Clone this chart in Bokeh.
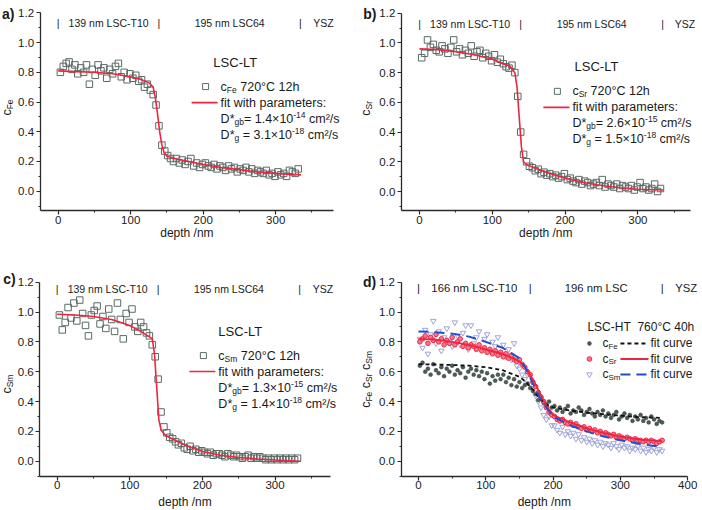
import math
from bokeh.plotting import figure
from bokeh.models import Label, FixedTicker, NumeralTickFormatter, Range1d
from bokeh.layouts import column, row
from bokeh.embed import file_html
from bokeh.resources import INLINE

FONT = "Liberation Sans"
AX = "#2b2b2b"
TXT = "#1a1a1a"

# ------------------------------------------------------------------ data
DEPTH_LT = [3, 7, 11, 15, 19, 23, 27, 31, 35, 39,
            43, 47, 51, 55, 59, 63, 67, 71, 75, 79,
            83, 87, 91, 95, 99, 103, 107, 111, 115, 119,
            123, 127, 131, 135, 139, 143, 147, 151, 155, 159,
            163, 167, 171, 175, 179, 183, 187, 191, 195, 199,
            203, 207, 211, 215, 219, 223, 227, 231, 235, 239,
            243, 247, 251, 255, 259, 263, 267, 271, 275, 279,
            283, 287, 291, 295, 299, 303, 307, 311, 315, 319,
            323, 327, 331]

C_FE_LT = [0.80, 0.84, 0.86, 0.87, 0.82, 0.85, 0.79, 0.83, 0.80, 0.85,
           0.72, 0.82, 0.78, 0.85, 0.81, 0.83, 0.76, 0.82, 0.79, 0.84,
           0.86, 0.77, 0.80, 0.75, 0.79, 0.76, 0.78, 0.74, 0.75, 0.70,
           0.72, 0.68, 0.65, 0.58, 0.44, 0.31, 0.27, 0.24, 0.22, 0.20,
           0.22, 0.19, 0.21, 0.18, 0.20, 0.22, 0.17, 0.19, 0.16, 0.18,
           0.19, 0.17, 0.16, 0.18, 0.15, 0.17, 0.16, 0.14, 0.17, 0.15,
           0.16, 0.13, 0.15, 0.14, 0.16, 0.13, 0.15, 0.12, 0.14, 0.13,
           0.12, 0.14, 0.11, 0.12, 0.10, 0.13, 0.11, 0.12, 0.10, 0.14,
           0.13, 0.12, 0.15]

C_SR_LT = [0.90, 0.93, 1.02, 0.97, 0.99, 0.95, 0.94, 0.98, 0.96, 0.93,
           0.97, 1.02, 0.94, 0.96, 0.92, 0.95, 0.93, 0.98, 0.91, 0.94,
           0.95, 0.90, 0.93, 0.91, 0.88, 0.92, 0.87, 0.89, 0.86, 0.84,
           0.83, 0.85, 0.80, 0.64, 0.40, 0.25, 0.20, 0.17, 0.16, 0.14,
           0.15, 0.12, 0.13, 0.11, 0.12, 0.10, 0.11, 0.09, 0.10, 0.12,
           0.08, 0.09, 0.07, 0.06, 0.08, 0.05, 0.07, 0.06, 0.04, 0.05,
           0.06, 0.04, 0.08, 0.03, 0.05, 0.04, 0.03, 0.05, 0.02, 0.04,
           0.03, 0.02, 0.04, 0.01, 0.03, 0.06, 0.02, 0.03, 0.01, 0.02,
           0.05, 0.00, 0.02]

C_SM_LT = [0.98, 0.88, 0.93, 1.03, 0.96, 1.06, 0.94, 1.08, 0.99, 0.91,
           0.84, 0.98, 1.01, 1.04, 0.92, 0.97, 0.89, 1.02, 0.95, 0.87,
           1.06, 0.95, 0.82, 0.99, 0.93, 1.02, 0.90, 0.87, 0.93, 0.90,
           0.86, 0.84, 0.78, 0.70, 0.55, 0.33, 0.23, 0.19, 0.16, 0.15,
           0.13, 0.11, 0.12, 0.09, 0.08, 0.10, 0.07, 0.08, 0.06, 0.07,
           0.06, 0.05, 0.06, 0.04, 0.05, 0.05, 0.04, 0.03, 0.05, 0.04,
           0.03, 0.04, 0.03, 0.02, 0.03, 0.04, 0.02, 0.03, 0.02, 0.03,
           0.02, 0.01, 0.02, 0.01, 0.02, 0.01, 0.02, 0.01, 0.02, 0.01,
           0.02, 0.01, 0.02]

FIT_DEPTH_LT = [0, 25, 50, 75, 100, 115, 125, 131, 134, 137, 140, 143,
                146, 150, 160, 180, 200, 225, 250, 275, 300, 335]
FIT_FE_LT = [0.81, 0.805, 0.80, 0.79, 0.77, 0.75, 0.73, 0.70, 0.63, 0.52,
             0.40, 0.31, 0.26, 0.235, 0.22, 0.20, 0.18, 0.16, 0.145, 0.13,
             0.12, 0.11]
FIT_SR_LT = [0.96, 0.955, 0.94, 0.92, 0.89, 0.86, 0.84, 0.80, 0.70, 0.50,
             0.30, 0.20, 0.185, 0.175, 0.155, 0.12, 0.09, 0.06, 0.04, 0.025,
             0.015, 0.01]
FIT_SM_LT = [0.985, 0.98, 0.97, 0.95, 0.91, 0.87, 0.84, 0.82, 0.72, 0.50,
             0.28, 0.21, 0.19, 0.17, 0.145, 0.10, 0.065, 0.04, 0.025, 0.015,
             0.008, 0.0]

DEPTH_HT = [2, 6, 10, 14, 18, 22, 26, 30, 34, 38,
            42, 46, 50, 54, 58, 62, 66, 70, 74, 78,
            82, 86, 90, 94, 98, 102, 106, 110, 114, 118,
            122, 126, 130, 134, 138, 142, 146, 150, 154, 158,
            162, 166, 170, 174, 178, 182, 186, 190, 194, 198,
            202, 206, 210, 214, 218, 222, 226, 230, 234, 238,
            242, 246, 250, 254, 258, 262, 266, 270, 274, 278,
            282, 286, 290, 294, 298, 302, 306, 310, 314, 318,
            322, 326, 330, 334, 338, 342, 346, 350, 354, 358,
            362]

C_FE_HT = [0.64, 0.66, 0.60, 0.62, 0.58, 0.65, 0.61, 0.59, 0.63, 0.57,
           0.62, 0.60, 0.64, 0.58, 0.61, 0.59, 0.63, 0.56, 0.60, 0.62,
           0.58, 0.61, 0.57, 0.60, 0.55, 0.59, 0.52, 0.57, 0.54, 0.58,
           0.55, 0.58, 0.53, 0.56, 0.51, 0.55, 0.50, 0.53, 0.49, 0.51,
           0.52, 0.49, 0.47, 0.45, 0.41, 0.43, 0.39, 0.38, 0.40, 0.36,
           0.37, 0.34, 0.36, 0.33, 0.35, 0.37, 0.32, 0.34, 0.33, 0.36,
           0.34, 0.31, 0.33, 0.35, 0.32, 0.30, 0.33, 0.31, 0.34, 0.30,
           0.32, 0.29, 0.31, 0.33, 0.28, 0.30, 0.32, 0.29, 0.31, 0.27,
           0.30, 0.28, 0.31, 0.27, 0.29, 0.26, 0.30, 0.28, 0.25, 0.27,
           0.26]

C_SR_HT = [0.80, 0.82, 0.84, 0.79, 0.83, 0.81, 0.85, 0.80, 0.82, 0.78,
           0.81, 0.79, 0.83, 0.78, 0.80, 0.82, 0.77, 0.79, 0.76, 0.78,
           0.77, 0.75, 0.78, 0.74, 0.76, 0.73, 0.75, 0.72, 0.74, 0.71,
           0.73, 0.70, 0.72, 0.69, 0.71, 0.68, 0.67, 0.68, 0.65, 0.63,
           0.60, 0.58, 0.53, 0.50, 0.46, 0.43, 0.40, 0.36, 0.33, 0.31,
           0.30, 0.28, 0.27, 0.28, 0.26, 0.25, 0.26, 0.24, 0.25, 0.23,
           0.22, 0.23, 0.21, 0.22, 0.20, 0.21, 0.19, 0.20, 0.18, 0.19,
           0.18, 0.17, 0.18, 0.16, 0.17, 0.16, 0.15, 0.16, 0.15, 0.14,
           0.15, 0.14, 0.14, 0.13, 0.14, 0.13, 0.14, 0.13, 0.12, 0.13,
           0.14]

C_SM_HT = [0.82, 0.76, 0.88, 0.72, 0.85, 0.94, 0.79, 0.87, 0.74, 0.83,
           0.89, 0.80, 0.77, 0.93, 0.84, 0.78, 0.86, 0.91, 0.75, 0.91,
           0.79, 0.83, 0.87, 0.76, 0.82, 0.85, 0.74, 0.80, 0.77, 0.83,
           0.72, 0.78, 0.70, 0.75, 0.68, 0.79, 0.64, 0.62, 0.58, 0.55,
           0.58, 0.52, 0.49, 0.44, 0.40, 0.36, 0.31, 0.28, 0.30, 0.24,
           0.24, 0.21, 0.19, 0.23, 0.18, 0.20, 0.17, 0.19, 0.15, 0.18,
           0.14, 0.16, 0.13, 0.15, 0.12, 0.14, 0.11, 0.13, 0.10, 0.12,
           0.11, 0.09, 0.12, 0.10, 0.08, 0.11, 0.09, 0.10, 0.07, 0.09,
           0.08, 0.10, 0.07, 0.09, 0.06, 0.08, 0.07, 0.09, 0.06, 0.08,
           0.07]

FIT_DEPTH_HT = [0, 25, 50, 75, 100, 125, 150, 160, 170, 180, 190, 200,
                225, 250, 275, 300, 330, 362]
FIT_FE_HT = [0.65, 0.648, 0.645, 0.64, 0.63, 0.61, 0.565, 0.53, 0.48, 0.42,
             0.38, 0.36, 0.34, 0.325, 0.315, 0.305, 0.295, 0.29]
FIT_SR_HT = [0.82, 0.815, 0.80, 0.78, 0.75, 0.72, 0.67, 0.62, 0.55, 0.46,
             0.37, 0.31, 0.26, 0.22, 0.19, 0.165, 0.145, 0.135]
FIT_SM_HT = [0.87, 0.865, 0.855, 0.835, 0.80, 0.76, 0.69, 0.62, 0.52, 0.43,
             0.36, 0.30, 0.24, 0.20, 0.165, 0.14, 0.115, 0.095]

LAYERS_LT = [139, 195]
LAYER_NAMES_LT = ["139 nm LSC-T10", "195 nm LSC64", "YSZ"]
LAYERS_HT = [166, 196]
LAYER_NAMES_HT = ["166 nm LSC-T10", "196 nm LSC", "YSZ"]

Y_TICKS = [0.0, 0.2, 0.4, 0.6, 0.8, 1.0, 1.2]
Y_MINOR = [-0.1, 0.1, 0.3, 0.5, 0.7, 0.9, 1.1]
X_TICKS_LT = [0, 100, 200, 300]
X_TICKS_HT = [0, 100, 200, 300, 400]
X_MINOR = [50, 150, 250, 350]

# (mantissa, exponent) of D*gb and D*g
PARAMS_FE = ("1.4", "-14", "3.1", "-18")
PARAMS_SR = ("2.6", "-15", "1.5", "-18")
PARAMS_SM = ("1.3", "-15", "1.4", "-18")

# ------------------------------------------------------------------ helpers
AW = {' ': 278, '*': 389, '-': 333, '.': 278, '/': 278, ':': 278, '=': 584,
      '|': 260, '°': 400, '²': 333, '×': 584,
      'A': 667, 'C': 722, 'D': 722, 'F': 611, 'H': 722, 'L': 556, 'M': 833,
      'S': 667, 'T': 611, 'Y': 667, 'Z': 611,
      'a': 556, 'b': 556, 'c': 500, 'e': 556, 'f': 278, 'g': 556, 'h': 556,
      'i': 222, 'm': 833, 'n': 556, 'p': 556, 'r': 333, 's': 500, 't': 278,
      'u': 556, 'v': 500, 'w': 722}

LEG = 12.5   # legend font size (px)
SUB = 8.5    # sub/superscript font size (px)


def tw(s, size):
    return sum(AW.get(ch, 556) for ch in s) * size / 1000.0


def lab(p, x, y, text, size, dx=0, dy=0, align="left", baseline="middle",
        angle=0.0, bold=False, color=TXT):
    p.add_layout(Label(x=x, y=y, x_offset=dx, y_offset=dy, text=text,
                       text_font=FONT, text_font_size=f"{size}px",
                       text_align=align, text_baseline=baseline,
                       text_color=color, angle=angle,
                       text_font_style="bold" if bold else "normal"))


def runs(p, x, y, parts, dx=0, dy=0, rotated=False, center=False):
    """parts: (text, size, shift_px); shift > 0 raises the run."""
    total = sum(tw(t, s) for t, s, _ in parts)
    off = -total / 2 if center else 0
    for t, s, sh in parts:
        stripped = t.lstrip(" ")
        off += tw(t[:len(t) - len(stripped)], s)
        if rotated:
            lab(p, x, y, stripped, s, dx=dx - sh, dy=dy + off,
                angle=math.pi / 2)
        else:
            lab(p, x, y, stripped, s, dx=dx + off, dy=dy + sh)
        off += tw(stripped, s)


def make_panel(w, h, kx, ky, px0, py0, xticks, xaxis_at, yaxis_at, xend):
    x0 = -px0 / kx
    y1 = py0 / ky
    p = figure(width=w, height=h,
               x_range=Range1d(x0, x0 + w / kx),
               y_range=Range1d(y1 - h / ky, y1),
               output_backend="svg", toolbar_location=None,
               min_border=0, min_border_left=0, min_border_right=0,
               min_border_top=0, min_border_bottom=0)
    p.outline_line_color = None
    p.grid.visible = False
    p.background_fill_color = "white"
    p.border_fill_color = "white"
    for ax in (p.xaxis[0], p.yaxis[0]):
        ax.axis_line_color = AX
        ax.axis_line_width = 1.3
        ax.major_tick_line_color = AX
        ax.minor_tick_line_color = AX
        ax.major_tick_line_width = 1.2
        ax.minor_tick_line_width = 1.0
        ax.major_tick_out = 4
        ax.major_tick_in = 0
        ax.minor_tick_out = 2
        ax.minor_tick_in = 0
        ax.major_label_text_font = FONT
        ax.major_label_text_font_size = "11.5px"
        ax.major_label_text_color = TXT
    p.xaxis.major_label_standoff = 1
    p.yaxis.major_label_standoff = 2
    p.xaxis.ticker = FixedTicker(ticks=xticks, minor_ticks=X_MINOR)
    p.yaxis.ticker = FixedTicker(ticks=Y_TICKS, minor_ticks=Y_MINOR)
    p.yaxis.formatter = NumeralTickFormatter(format="0.0")
    p.xaxis.fixed_location = xaxis_at
    p.yaxis.fixed_location = yaxis_at
    p.xaxis.bounds = (yaxis_at, xend)
    p.yaxis.bounds = (xaxis_at, 1.2)
    g = dict(kx=kx, ky=ky, xa=xaxis_at, ya=yaxis_at, xend=xend)
    return p, g


def header(p, layers, names, y, size, yoff):
    bounds = [0, layers[0], layers[0] + layers[1]]
    for b in bounds:
        lab(p, b, y, "|", size, align="center")
    lab(p, (bounds[0] + bounds[1]) / 2, y, names[0], size, align="center")
    lab(p, (bounds[1] + bounds[2]) / 2, y, names[1], size, align="center")
    lab(p, bounds[2], y, names[2], size, dx=yoff)


def axis_texts(p, g, letter, ylab_parts, ylab_y, ylab_dx, letter_dx,
               letter_dy, xlab_dy):
    lab(p, g["ya"], 1.2, letter, 14, dx=letter_dx, dy=letter_dy,
        baseline="alphabetic", bold=True)
    runs(p, g["ya"], ylab_y, ylab_parts, dx=ylab_dx, rotated=True, center=True)
    lab(p, (g["ya"] + g["xend"]) / 2, g["xa"], "depth /nm", 12, dy=xlab_dy,
        align="center")


def lt_panel(p, g, values, fit, elem, params, title_xy, anchor, hy, ysz_dx):
    kx, ky = g["kx"], g["ky"]
    p.scatter(DEPTH_LT, values, marker="square", size=6.5,
              line_color="#5a6b65", fill_alpha=0, line_width=1)
    p.line(FIT_DEPTH_LT, fit, line_color="#ee2440", line_width=1.6)
    header(p, LAYERS_LT, LAYER_NAMES_LT, hy, 10.5, ysz_dx)
    lab(p, title_xy[0], title_xy[1], "LSC-LT", 13)
    ax_, ay_ = anchor
    step = 16 / ky
    p.scatter([ax_ - 15 / kx], [ay_], marker="square", size=6,
              line_color="#5a6b65", fill_alpha=0, line_width=1)
    runs(p, ax_, ay_, [("c", LEG, 0), (elem, SUB, -3), (" 720°C 12h", LEG, 0)])
    y2 = ay_ - step
    p.line([ax_ - 29 / kx, ax_ - 3 / kx], [y2, y2], line_color="#ee2440",
           line_width=1.6)
    runs(p, ax_, y2, [("fit with parameters:", LEG, 0)])
    m1, e1, m2, e2 = params
    runs(p, ax_, y2 - step, [("D*", LEG, 0), ("gb", SUB, -3),
                             ("= " + m1 + "×10", LEG, 0), (e1, SUB, 4),
                             (" cm²/s", LEG, 0)])
    runs(p, ax_, y2 - 2 * step, [("D*", LEG, 0), ("g", SUB, -3),
                                 (" = " + m2 + "×10", LEG, 0), (e2, SUB, 4),
                                 (" cm²/s", LEG, 0)])


# ------------------------------------------------------------------ panel a
pa, ga = make_panel(350, 255, 0.725, 148.6, 57.7, 190.7, X_TICKS_LT,
                    -0.13, -25, 380)
lt_panel(pa, ga, C_FE_LT, FIT_FE_LT, "Fe", PARAMS_FE, (214, 0.867),
         (224, 0.704), 1.13, 13)
axis_texts(pa, ga, "a)", [("c", 12.5, 0), ("Fe", 8.5, -3)], 0.563, -33, -38,
           -1, -22)

# ------------------------------------------------------------------ panel b
pb, gb = make_panel(352, 255, 0.728, 148.6, 69, 191, X_TICKS_LT,
                    -0.13, -25, 372)
lt_panel(pb, gb, C_SR_LT, FIT_SR_LT, "Sr", PARAMS_SR, (213, 0.84),
         (210, 0.674), 1.13, 12)
axis_texts(pb, gb, "b)", [("c", 12.5, 0), ("Sr", 8.5, -3)], 0.56, -35, -38,
           -1, -22)

# ------------------------------------------------------------------ panel c
pc, gc = make_panel(350, 255, 0.726, 149.2, 56.7, 205.7, X_TICKS_LT,
                    -0.1, -24, 376)
lt_panel(pc, gc, C_SM_LT, FIT_SM_LT, "Sm", PARAMS_SM, (222, 0.869),
         (222, 0.708), 1.155, 13)
axis_texts(pc, gc, "c)", [("c", 12.5, 0), ("Sm", 8.5, -3)], 0.517, -33,
           -36.5, 3, -26)

# ------------------------------------------------------------------ panel d
pd, gd = make_panel(352, 255, 0.673, 149.2, 68, 205.7, X_TICKS_HT,
                    -0.1, -26, 400)
kx, ky = gd["kx"], gd["ky"]
pd.scatter(DEPTH_HT, C_SM_HT, marker="inverted_triangle", size=5.5,
           line_color="#9ea4d8", fill_alpha=0, line_width=1)
pd.scatter(DEPTH_HT, C_FE_HT, marker="circle", size=3.8, line_color="#3b4842",
           fill_color="#4f5c56", line_width=0.6)
pd.scatter(DEPTH_HT, C_SR_HT, marker="circle", size=4.6, line_color="#ef2945",
           fill_color="#f5798c", line_width=1)
pd.line(FIT_DEPTH_HT, FIT_FE_HT, line_color="#111111", line_width=1.8,
        line_dash="4 3")
pd.line(FIT_DEPTH_HT, FIT_SR_HT, line_color="#ee2440", line_width=1.8)
pd.line(FIT_DEPTH_HT, FIT_SM_HT, line_color="#1f4fcf", line_width=2,
        line_dash="10 6")
header(pd, LAYERS_HT, LAYER_NAMES_HT, 1.162, 11.3, 13)
axd, ayd = 254, 0.789
runs(pd, axd, ayd, [("LSC-HT", 12, 0), ("  760°C 40h", 12, 0)],
     dx=-2, dy=16)
rows_d = [("Fe", dict(marker="circle", size=3.8, line_color="#3b4842",
                      fill_color="#4f5c56", line_width=0.6),
           dict(line_color="#111111", line_width=1.8, line_dash="4 3")),
          ("Sr", dict(marker="circle", size=4.6, line_color="#ef2945",
                      fill_color="#f5798c", line_width=1),
           dict(line_color="#ee2440", line_width=1.8)),
          ("Sm", dict(marker="inverted_triangle", size=5.5,
                      line_color="#9ea4d8", fill_alpha=0, line_width=1),
           dict(line_color="#1f4fcf", line_width=2, line_dash="10 6"))]
for i, (el, mk, ln) in enumerate(rows_d):
    yy = ayd - i * 15.5 / ky
    pd.scatter([axd], [yy], **mk)
    runs(pd, axd, yy, [("c", 12, 0), (el, 8, -3)], dx=13)
    pd.line([axd + 31 / kx, axd + 59 / kx], [yy, yy], **ln)
    lab(pd, axd, yy, "fit curve", 12, dx=61)
axis_texts(pd, gd, "d)",
           [("c", 12.5, 0), ("Fe", 8.5, -3), (" c", 12.5, 0), ("Sr", 8.5, -3),
            (" c", 12.5, 0), ("Sm", 8.5, -3)], 0.548, -35, -38, 0, -26)

layout = column(row(pa, pb), row(pc, pd))
open("out.html", "w").write(file_html(layout, INLINE))
